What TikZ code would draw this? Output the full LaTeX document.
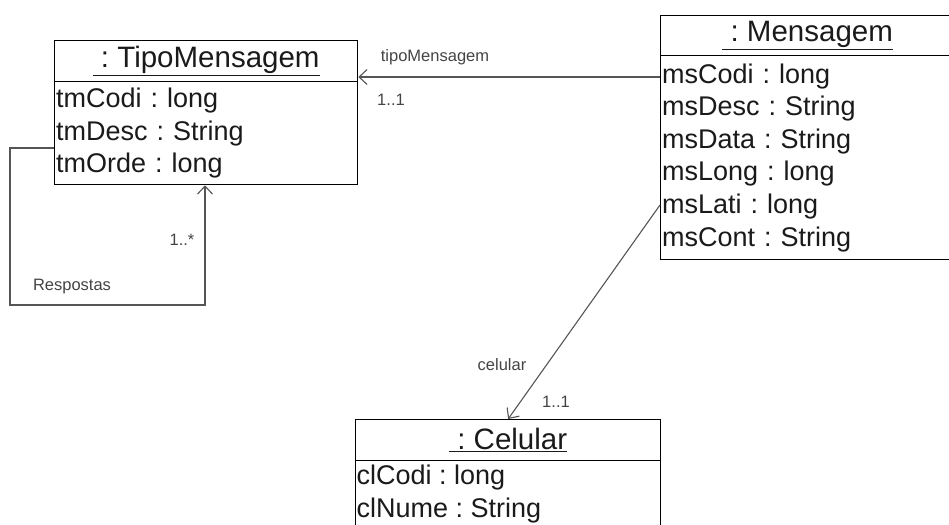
\documentclass[tikz,border=0pt]{standalone}
\usepackage{fontspec}
\setmainfont{Liberation Sans}
\usetikzlibrary{arrows.meta,calc}
\frenchspacing
\definecolor{linegray}{HTML}{555555}
\definecolor{labgray}{HTML}{444444}
\definecolor{txt}{HTML}{1A1A1A}
\tikzset{
  box/.style={draw=black, line width=1.3pt, anchor=north west, inner sep=0pt},
  titlebox/.style={box, text=txt, font=\fontsize{29.5}{32}\selectfont},
  attrbox/.style={box, text=txt, align=left, font=\fontsize{27}{32.6}\selectfont, inner xsep=1.5pt},
  conn/.style={draw=linegray, line width=1.1pt, -{Straight Barb[length=8pt,width=15pt,line width=1.1pt]}},
  lab/.style={text=labgray, font=\fontsize{16.5}{18}\selectfont, inner sep=0pt},
}
\begin{document}
\begin{tikzpicture}[x=1pt,y=-1pt]
\useasboundingbox (0,0) rectangle (949,524);
\clip (0,0) rectangle (949,524);
% TipoMensagem
\node[titlebox, minimum width=303pt, minimum height=41pt] (tmT) at (54,40) {\underline{\ : TipoMensagem}};
\node[attrbox, text width=300pt, minimum width=303pt, minimum height=103pt] (tmA) at (54,81)
  {tmCodi : long\\tmDesc : String\\tmOrde : long};
% Mensagem
\node[titlebox, minimum width=300pt, minimum height=40pt] (msT) at (660,15) {\hspace*{-6pt}\underline{\ : Mensagem}};
\node[attrbox, text width=297pt, minimum width=300pt, minimum height=204pt] (msA) at (660,55)
  {msCodi : long\\msDesc : String\\msData : String\\msLong : long\\msLati : long\\msCont : String};
% Celular
\node[titlebox, minimum width=305pt, minimum height=41pt] (clT) at (355,419) {\underline{\ : Celular}};
\node[attrbox, text width=302pt, minimum width=305pt, minimum height=100pt] (clA) at (355,460) {};
\node[anchor=north west, text=txt, align=left, font=\fontsize{27}{32.6}\selectfont, inner sep=0pt] (clTxt) at ($(clA.north west)+(1.5,5)$)
  {clCodi : long\\clNume : String};
% connectors
\coordinate (tmStart) at ($(msA.north west)+(0,22)$);
\draw[conn] (tmStart) -- (tmT.east |- tmStart);
\coordinate (clStart) at ($(msA.north west)+(0,150)$);
\draw[conn] (clStart) -- (clT.north);
\coordinate (rStart) at ($(tmA.north west)+(0,67)$);
\coordinate (rCorner) at (10,305);
\coordinate (rEnd) at ($(tmA.south west)+(151,0)$);
\draw[conn] (rStart) -| (rCorner) -| (rEnd);
% labels
\node[lab] (l1) at (435,57) {tipoMensagem};
\node[lab] (l2) at (391,100) {1..1};
\node[lab] (l3) at (182,240) {1..*};
\node[lab] (l4) at (72,287) {Respostas};
\node[lab] (l5) at (502,365) {celular};
\node[lab] (l6) at (556,402) {1..1};
\end{tikzpicture}
\end{document}
